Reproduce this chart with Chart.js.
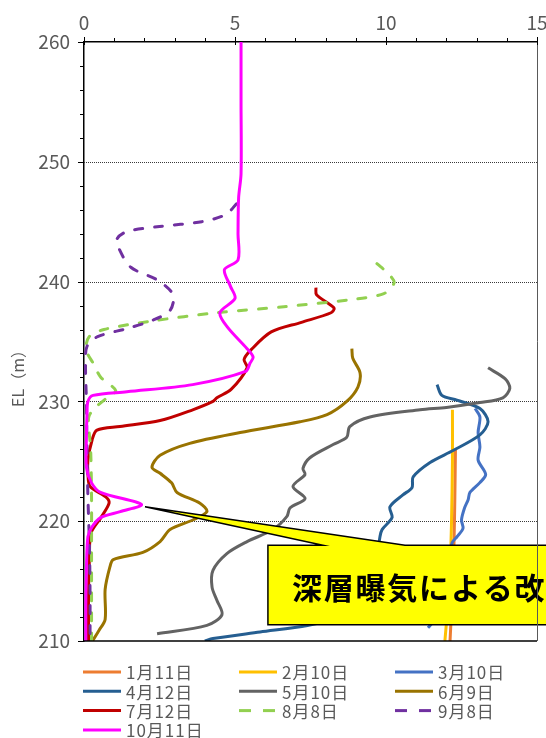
<!DOCTYPE html>
<html>
<head>
<meta charset="utf-8">
<script src="https://cdn.jsdelivr.net/npm/chart.js@4"></script>
<style>
  html, body { margin: 0; padding: 0; background: #fff; }
  #wrap { width: 546px; height: 738px; position: relative; }
</style>
</head>
<body>
<div id="wrap"><canvas id="profile"></canvas></div>
<script>
// Vertical profiles: elevation (m) and measured value for each survey date, top to bottom
const jan11El  = [226.0, 222.0, 218.0, 214.0, 211.0, 210.0];
const jan11Val = [12.3, 12.28, 12.25, 12.2, 12.14, 12.12];

const feb10El  = [229.3, 225.0, 220.0, 216.0, 213.0, 210.0];
const feb10Val = [12.2, 12.2, 12.17, 12.12, 12.05, 11.95];

const mar10El  = [229.4, 228.7, 227.4, 226.2, 225.1, 223.9, 223.2, 222.4, 221.8, 221.1, 220.1, 219.4, 218.7, 218.2, 216.0, 214.0, 212.5, 211.5, 211.1];
const mar10Val = [12.95, 13.11, 13.05, 13.11, 13.05, 13.3, 13.1, 12.78, 12.72, 12.6, 12.5, 12.55, 12.35, 12.19, 12.0, 11.8, 11.65, 11.52, 11.39];

const apr12El  = [231.4, 230.5, 230.1, 229.4, 228.3, 227.2, 225.9, 224.9, 223.7, 222.8, 222.2, 221.2, 220.3, 219.3, 218.7, 217.0, 215.0, 213.0, 212.0, 211.3, 210.75, 210.2, 210.0];
const apr12Val = [11.69, 11.85, 12.35, 13.11, 13.38, 13.11, 12.22, 11.46, 10.9, 10.86, 10.56, 10.13, 10.2, 9.87, 9.8, 9.7, 9.5, 9.0, 8.4, 7.4, 5.83, 4.27, 4.0];

const may10El  = [232.8, 231.9, 231.1, 230.3, 229.9, 229.5, 229.3, 228.7, 227.9, 227.0, 226.4, 225.3, 224.4, 223.9, 222.9, 221.9, 221.1, 220.4, 219.3, 218.3, 217.3, 215.9, 214.5, 213.4, 212.2, 211.3, 210.6];
const may10Val = [13.38, 13.94, 14.1, 13.87, 13.11, 12.0, 11.13, 9.47, 8.8, 8.7, 8.25, 7.48, 7.25, 7.32, 6.92, 7.32, 6.82, 6.72, 6.26, 5.4, 4.73, 4.27, 4.24, 4.4, 4.57, 4.07, 2.42];

const jun9El  = [234.4, 233.6, 232.4, 231.2, 230.0, 228.9, 228.3, 227.4, 226.5, 225.5, 224.5, 224.0, 223.2, 222.4, 221.5, 220.8, 220.1, 219.3, 218.3, 217.4, 216.8, 216.2, 214.3, 211.8, 210.9, 210.0];
const jun9Val = [8.87, 8.9, 9.14, 9.07, 8.7, 8.05, 7.15, 5.17, 3.5, 2.52, 2.25, 2.52, 2.9, 3.08, 3.84, 4.07, 3.6, 2.85, 2.52, 1.95, 0.97, 0.86, 0.7, 0.7, 0.5, 0.28];

const jul12El  = [239.5, 238.9, 237.8, 237.4, 236.6, 235.8, 234.3, 233.5, 232.8, 231.0, 230.3, 230.0, 229.3, 228.4, 227.9, 227.6, 226.8, 225.1, 224.0, 222.9, 222.0, 221.5, 220.3, 219.0, 217.0, 214.0, 210.0];
const jul12Val = [7.68, 7.7, 8.28, 8.18, 7.2, 6.2, 5.53, 5.3, 5.4, 4.87, 4.4, 4.27, 3.6, 2.52, 1.19, 0.43, 0.27, 0.13, 0.13, 0.2, 0.73, 0.83, 0.56, 0.23, 0.18, 0.15, 0.15];

const aug8El  = [241.5, 240.6, 239.9, 239.0, 238.5, 237.9, 237.4, 236.7, 236.0, 235.4, 234.3, 233.2, 232.0, 230.9, 230.3, 229.3, 228.6, 226.0, 222.0, 218.0, 214.0, 210.0];
const aug8Val = [9.7, 10.1, 10.27, 9.93, 8.84, 6.62, 4.4, 2.22, 0.66, 0.17, 0.07, 0.3, 0.56, 1.05, 0.76, 0.3, 0.15, 0.22, 0.25, 0.25, 0.25, 0.25];

const sep8El  = [246.5, 245.6, 245.0, 244.6, 244.2, 243.6, 242.8, 241.2, 240.1, 238.9, 237.6, 236.8, 236.1, 235.4, 234.6, 233.0, 230.0, 226.0, 222.0, 218.0, 214.0, 210.0];
const sep8Val = [5.05, 4.7, 3.9, 2.5, 1.45, 1.1, 1.15, 1.55, 2.45, 2.95, 2.85, 2.3, 1.45, 0.45, 0.1, 0.05, 0.08, 0.1, 0.13, 0.18, 0.2, 0.2];

const oct11El  = [260.0, 255.0, 249.0, 247.0, 244.0, 241.8, 241.0, 239.6, 238.6, 237.4, 236.2, 234.4, 233.7, 233.2, 232.5, 231.4, 230.8, 230.5, 230.0, 229.0, 227.0, 224.5, 223.2, 222.4, 221.4, 220.8, 220.3, 219.5, 218.7, 216.0, 213.0, 210.0];
const oct11Val = [5.2, 5.2, 5.2, 5.12, 5.1, 5.1, 4.65, 4.85, 5.0, 4.5, 4.75, 5.4, 5.6, 5.5, 5.35, 3.6, 1.42, 0.3, 0.13, 0.1, 0.08, 0.08, 0.25, 0.55, 1.9, 1.2, 0.55, 0.26, 0.13, 0.08, 0.06, 0.06];

const seriesLabels = ['1月11日', '2月10日', '3月10日', '4月12日', '5月10日', '6月9日', '7月12日', '8月8日', '9月8日', '10月11日'];
const seriesEl  = [jan11El, feb10El, mar10El, apr12El, may10El, jun9El, jul12El, aug8El, sep8El, oct11El];
const seriesVal = [jan11Val, feb10Val, mar10Val, apr12Val, may10Val, jun9Val, jul12Val, aug8Val, sep8Val, oct11Val];

const seriesColors = ['#ED7D31', '#FFC000', '#4472C4', '#255E91', '#636363', '#997300', '#C00000', '#92D050', '#7030A0', '#FF00FF'];
const dashedSeries = ['8月8日', '9月8日'];

// Callout pointing at the October peak, placed in axis units
const callout = {
  text: '深層曝気による改',
  tipX: 2.02, tipEl: 221.2,
  left: 6.09, top: 218.0, bottom: 211.35,
  baseFrom: 7.91, baseTo: 10.63
};

const axisTitle = 'EL（m）';
const axisGrey = '#595959';
const fontFamily = '"Noto Sans CJK JP", "Noto Sans", sans-serif';

function toPoints(el, val) {
  return el.map((e, i) => ({ x: val[i], y: e }));
}

const datasets = seriesLabels.map((label, i) => {
  const dashed = dashedSeries.includes(label);
  return {
    label: label,
    data: toPoints(seriesEl[i], seriesVal[i]),
    showLine: true,
    borderColor: seriesColors[i],
    backgroundColor: seriesColors[i],
    borderWidth: 3,
    borderDash: dashed ? [8, 12] : [],
    borderCapStyle: dashed ? 'round' : 'butt',
    borderJoinStyle: 'round',
    pointRadius: 0,
    tension: 0.3,
    order: seriesLabels.length - i
  };
});

// Dotted horizontal grid at every 10 m, drawn under the profiles
const dottedGrid = {
  id: 'dottedGrid',
  beforeDatasetsDraw(chart) {
    const { ctx, chartArea: a, scales: { y } } = chart;
    ctx.save();
    ctx.strokeStyle = '#3a3a3a';
    ctx.lineWidth = 1;
    ctx.setLineDash([1, 1]);
    ctx.beginPath();
    for (let v = 220; v < 260; v += 10) {
      const py = Math.round(y.getPixelForValue(v)) + 0.5;
      ctx.moveTo(a.left, py);
      ctx.lineTo(a.right, py);
    }
    ctx.stroke();
    ctx.restore();
  }
};

// Axis tick marks (major and minor), right/bottom frame and the vertical axis title
const axisTicks = {
  id: 'axisTicks',
  afterDraw(chart) {
    const { ctx, chartArea: a, scales: { x, y } } = chart;
    ctx.save();
    ctx.strokeStyle = '#595959';
    ctx.lineWidth = 1;
    ctx.beginPath();
    ctx.moveTo(a.right + 0.5, a.top);
    ctx.lineTo(a.right + 0.5, a.bottom);
    ctx.stroke();
    ctx.strokeStyle = '#000';
    ctx.lineWidth = 1.5;
    ctx.beginPath();
    ctx.moveTo(a.left, a.bottom);
    ctx.lineTo(a.right, a.bottom);
    ctx.stroke();

    ctx.lineWidth = 1;
    ctx.beginPath();
    for (let v = 0; v <= 15; v++) {
      const px = Math.round(x.getPixelForValue(v)) + 0.5;
      const major = v % 5 === 0;
      ctx.moveTo(px, a.top - (major ? 5 : 4));
      ctx.lineTo(px, a.top + (major ? 3 : 0));
    }
    for (let v = 210; v <= 260; v += 2) {
      const py = Math.round(y.getPixelForValue(v)) + 0.5;
      const major = v % 10 === 0;
      ctx.moveTo(a.left - (major ? 6 : 4), py);
      ctx.lineTo(a.left, py);
    }
    ctx.stroke();

    ctx.translate(18, a.top + (a.bottom - a.top) * 0.555);
    ctx.rotate(-Math.PI / 2);
    ctx.fillStyle = axisGrey;
    ctx.font = '16px ' + fontFamily;
    ctx.textAlign = 'center';
    ctx.textBaseline = 'middle';
    ctx.fillText(axisTitle, 0, 0);
    ctx.restore();
  }
};

// Yellow annotation box with its pointer
const calloutBox = {
  id: 'calloutBox',
  afterDatasetsDraw(chart) {
    const { ctx, scales: { x, y } } = chart;
    const L = x.getPixelForValue(callout.left);
    const T = y.getPixelForValue(callout.top);
    const B = y.getPixelForValue(callout.bottom);
    const R = chart.width + 20;
    ctx.save();
    ctx.beginPath();
    ctx.moveTo(L, T);
    ctx.lineTo(x.getPixelForValue(callout.baseFrom), T);
    ctx.lineTo(x.getPixelForValue(callout.tipX), y.getPixelForValue(callout.tipEl));
    ctx.lineTo(x.getPixelForValue(callout.baseTo), T);
    ctx.lineTo(R, T);
    ctx.lineTo(R, B);
    ctx.lineTo(L, B);
    ctx.closePath();
    ctx.fillStyle = '#FFFF00';
    ctx.fill();
    ctx.strokeStyle = '#000';
    ctx.lineWidth = 1.5;
    ctx.lineJoin = 'miter';
    ctx.stroke();

    ctx.fillStyle = '#000';
    ctx.font = 'bold 30px ' + fontFamily;
    ctx.textBaseline = 'middle';
    ctx.letterSpacing = '1.8px';
    ctx.fillText(callout.text, L + 24, (T + B) / 2 + 3);
    ctx.restore();
  }
};

// Three-column legend under the plot
const gridLegend = {
  id: 'gridLegend',
  afterDraw(chart) {
    const { ctx, chartArea: a } = chart;
    ctx.save();
    ctx.font = '17px ' + fontFamily;
    ctx.textBaseline = 'middle';
    ctx.letterSpacing = '1px';
    chart.data.datasets.forEach((ds, i) => {
      const col = i % 3;
      const row = Math.floor(i / 3);
      const x0 = a.left - 1 + col * 156;
      const yy = a.bottom + 31 + row * 19.3;
      ctx.strokeStyle = ds.borderColor;
      ctx.lineWidth = 3;
      ctx.lineCap = 'butt';
      ctx.setLineDash(ds.borderDash.length ? [12, 12] : []);
      ctx.beginPath();
      ctx.moveTo(x0, yy);
      ctx.lineTo(x0 + 38, yy);
      ctx.stroke();
      ctx.fillStyle = axisGrey;
      ctx.fillText(ds.label, x0 + 43, yy + 1);
    });
    ctx.restore();
  }
};

new Chart(document.getElementById('profile'), {
  type: 'scatter',
  data: { datasets: datasets },
  plugins: [dottedGrid, axisTicks, calloutBox, gridLegend],
  options: {
    responsive: true,
    maintainAspectRatio: false,
    animation: false,
    events: [],
    layout: { padding: { top: 0, left: 0, right: 9, bottom: 97 } },
    scales: {
      x: {
        type: 'linear',
        position: 'top',
        min: 0,
        max: 15,
        afterFit: s => { s.height = 42; s.paddingRight = 0; s.paddingLeft = 0; },
        ticks: {
          stepSize: 1,
          autoSkip: false,
          maxRotation: 0,
          padding: 8,
          color: axisGrey,
          font: { family: fontFamily, size: 19 },
          callback: v => (v % 5 === 0 ? String(v) : '')
        },
        grid: { drawOnChartArea: false, drawTicks: false },
        border: { display: true, color: '#000', width: 1.5 }
      },
      y: {
        type: 'linear',
        min: 210,
        max: 260,
        afterFit: s => { s.width = 84; },
        ticks: {
          stepSize: 2,
          autoSkip: false,
          padding: 14,
          color: axisGrey,
          font: { family: fontFamily, size: 19 },
          callback: v => (v % 10 === 0 ? String(v) : '')
        },
        grid: { drawOnChartArea: false, drawTicks: false },
        border: { display: true, color: '#000', width: 1.5 }
      }
    },
    plugins: {
      legend: { display: false },
      tooltip: { enabled: false }
    }
  }
});
</script>
</body>
</html>
